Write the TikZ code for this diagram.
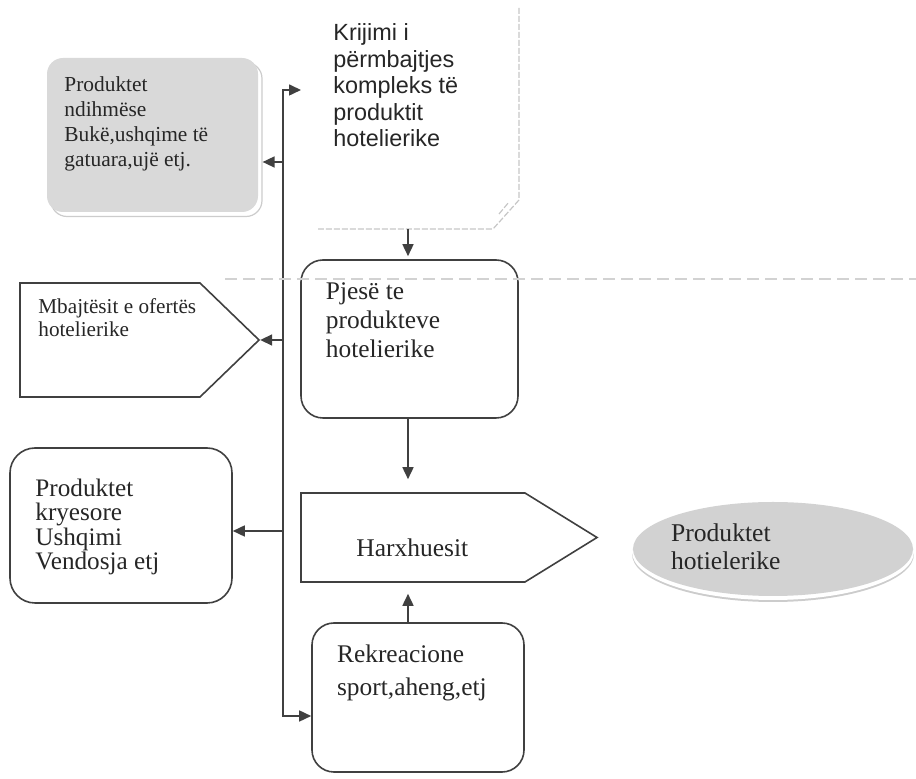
\documentclass[tikz, border = 0pt]{standalone}
\usepackage{fontspec}
\setmainfont{Liberation Serif}
\newfontfamily\arialfont{Liberation Sans}
\usetikzlibrary{arrows.meta, shapes.geometric, shapes.symbols}

\begin{document}
\begin{tikzpicture}[x = 0.5pt, y = -0.5pt, > = {Triangle[length = 6pt, width = 5.5pt]},
	wire/.style = {draw = black!75, line width = 0.8pt},
	roundbox/.style = {wire, rectangle, rounded corners = 11pt, inner sep = 0pt},
	signalbox/.style = {wire, signal, signal to = east, inner sep = 0pt},
	txt/.style = {anchor = base west, align = left, inner sep = 0pt, text = black!85},
	faint/.style = {draw = gray!45, line width = 0.6pt, dash pattern = on 3pt off 1pt}]

	\useasboundingbox (0, 0) rectangle (916, 779);

	% Grey box at the top left, with its light shadow

	\node [roundbox, draw = gray!40, line width = 0.6pt, fill = white, rounded corners = 8pt,
		minimum width = 105.5pt, minimum height = 77pt] (ndihmese back) at (156.5, 139.5) {};
	\node [rectangle, rounded corners = 8pt, fill = gray!30, inner sep = 0pt,
		minimum width = 105.5pt, minimum height = 77pt] (ndihmese) at (152.5, 135) {};
	\node [txt, font = \fontsize{10.7pt}{12.5pt}\selectfont] (ndihmese text) at (64, 166.7)
		{Produktet\\ndihmëse\\Bukë,ushqime të\\gatuara,ujë etj.};

	% Faded note at the top

	\draw [faint] (519, 8) -- (519, 200) -- (493, 229) -- (318, 229);
	\draw [faint] (499, 214) -- (509, 202);
	\coordinate (krijimi in) at (301, 90);
	\coordinate (krijimi out) at (408, 229);
	\node [txt, font = \arialfont\fontsize{11.7pt}{13.25pt}\selectfont] (krijimi text) at (333, 146.7)
		{Krijimi i\\përmbajtjes\\kompleks të\\produktit\\hotelierike};

	% Middle column

	\node [roundbox, minimum width = 108.5pt, minimum height = 79pt] (pjese) at (409.5, 339) {};
	\node [txt, font = \fontsize{12.7pt}{14.5pt}\selectfont] (pjese text) at (325.5, 358)
		{Pjesë te\\produkteve\\hotelierike};

	\node [signalbox, signal pointer angle = 63.4, minimum width = 148pt, minimum height = 44.5pt]
		(harxhuesit) at (413, 537.5) {};
	\node [txt, font = \fontsize{12.75pt}{14.5pt}\selectfont] (harxhuesit text) at (356, 556.7) {Harxhuesit};

	\node [roundbox, minimum width = 106pt, minimum height = 74.5pt] (rekreacione) at (418, 697.5) {};
	\node [txt, font = \fontsize{12.7pt}{16.65pt}\selectfont] (rekreacione text) at (336.7, 696)
		{Rekreacione\\sport,aheng,etj};

	% Left column

	\node [signalbox, signal pointer angle = 88, minimum width = 119.5pt, minimum height = 57pt]
		(mbajtesit) at (110, 340) {};
	\node [txt, font = \fontsize{10.6pt}{11.35pt}\selectfont] (mbajtesit text) at (38, 336.7)
		{Mbajtësit e ofertës\\hotelierike};

	\node [roundbox, rounded corners = 12.5pt, minimum width = 111pt, minimum height = 77.5pt]
		(kryesore) at (121, 525.5) {};
	\node [txt, font = \fontsize{12.6pt}{12.25pt}\selectfont] (kryesore text) at (35, 570)
		{Produktet\\kryesore\\Ushqimi\\Vendosja etj};

	% Grey ellipse on the right

	\node [ellipse, fill = gray!40, inner sep = 0pt, minimum width = 141pt, minimum height = 48pt]
		(produktet shadow) at (773, 554) {};
	\node [ellipse, fill = white, inner sep = 0pt, minimum width = 141pt, minimum height = 48pt]
		(produktet rim) at (773, 552) {};
	\node [ellipse, fill = gray!35, inner sep = 0pt, minimum width = 140pt, minimum height = 47pt]
		(produktet) at (773, 549) {};
	\node [txt, font = \fontsize{12.8pt}{14.15pt}\selectfont] (produktet text) at (670.7, 570)
		{Produktet\\hotielerike};

	% Bus and its branches

	\coordinate (bus top) at (283, 90);
	\coordinate (bus a) at (283, 162);
	\coordinate (bus c) at (283, 531);
	\coordinate (bus bottom) at (283, 716);

	\draw [wire, <->] (krijimi in) -- (bus top) -- (bus bottom) -- (bus bottom -| rekreacione.west);
	\draw [wire, ->] (bus a) -- (bus a -| ndihmese back.east);
	\draw [wire, ->] (bus top |- mbajtesit.east) -- (mbajtesit.east);
	\draw [wire, ->] (bus c) -- (bus c -| kryesore.east);

	% Down the middle

	\draw [wire, ->, shorten > = 1.5pt] (krijimi out) -- (krijimi out |- pjese.north);
	\draw [wire, ->, shorten > = 6.5pt] (krijimi out |- pjese.south) -- (krijimi out |- harxhuesit.north);
	\draw [wire, ->, shorten > = 5.5pt] (krijimi out |- rekreacione.north) -- (krijimi out |- harxhuesit.south);

	% Scan line across the page

	\draw [gray!35, line width = 0.6pt, dash pattern = on 6pt off 3pt] (225, 279) -- (916, 279);

\end{tikzpicture}
\end{document}
